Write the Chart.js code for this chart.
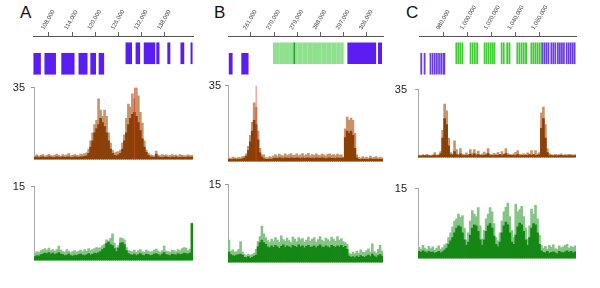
<!DOCTYPE html>
<html>
<head>
<meta charset="utf-8">
<script src="https://cdn.jsdelivr.net/npm/chart.js@4.4.0/dist/chart.umd.min.js"></script>
<style>
  body { margin: 0; background: #fff; width: 600px; height: 288px; overflow: hidden; position: relative; font-family: "Liberation Sans", Arial, sans-serif; }
  canvas { position: absolute; }
  .panel { position: absolute; font-size: 17px; line-height: 17px; color: #111; }
</style>
</head>
<body>
<div class="panel" style="left:20px;top:4px">A</div>
<div class="panel" style="left:214px;top:4px">B</div>
<div class="panel" style="left:406px;top:4px">C</div>

<canvas id="trackA" width="200" height="80" style="left:0;top:0"></canvas>
<canvas id="trackB" width="200" height="80" style="left:200px;top:0"></canvas>
<canvas id="trackC" width="200" height="80" style="left:400px;top:0"></canvas>
<canvas id="brownA" width="193" height="97" style="left:0;top:75px"></canvas>
<canvas id="brownB" width="189" height="97" style="left:194px;top:75px"></canvas>
<canvas id="brownC" width="192" height="97" style="left:384px;top:75px"></canvas>
<canvas id="greenA" width="193" height="99" style="left:0;top:174px"></canvas>
<canvas id="greenB" width="189" height="99" style="left:194px;top:174px"></canvas>
<canvas id="greenC" width="192" height="99" style="left:384px;top:174px"></canvas>

<script>
// genomic axis ticks
var ticksA = [108000, 114000, 120000, 126000, 132000, 138000];
var ticksB = [261000, 270000, 279000, 288000, 297000, 306000];
var ticksC = [980000, 1000000, 1020000, 1040000, 1060000];

// gene blocks [start, end]
var genesA_upper = [[127900,129400],[130500,131500],[132600,135400],[135850,136500],[138700,139300],[142100,142900],[144700,145050]];
var genesA_lower = [[104100,105850],[106950,109750],[111300,114550],[115750,117900],[118800,120100],[120950,122200]];

var genesB_upperGreen = [[269700,272100],[272300,274100],[274300,276000],[276200,277700],[277900,279000],[279200,281000],[281200,282900],[283100,284700],[284900,286600],[286800,288300],[288500,290300],[290500,292200],[292400,294200],[294400,295800],[296000,296900]];
var genesB_upperDark = [[277700,278000]];
var genesB_upperBlue = [[298600,309500],[310500,311800]];
var genesB_lower = [[252450,253750],[257400,259950]];

var genesC_upperGreen = [[989900,990800],[991600,992500],[993300,994200],[995000,995900],
  [1001900,1002800],[1003700,1004600],[1005500,1006400],[1007400,1008500],
  [1013700,1014600],[1015400,1016300],[1017100,1018000],[1018900,1019800],[1020600,1021500],[1022200,1022950],
  [1028000,1028900],[1029800,1030700],[1032700,1033600],[1034500,1035550],
  [1041200,1042100],[1043000,1043900],[1044800,1045700],[1046600,1047500],[1048500,1049600],
  [1053000,1053900],[1054700,1055600],[1056400,1057300],[1058100,1059000],[1059800,1060700],[1061400,1062250]];
var genesC_upperBlue = [[1062300,1063200],[1064000,1064900],[1065700,1066600],[1067400,1068300],[1069800,1070700],[1071500,1072400],[1073200,1074100],[1075300,1076200],[1077000,1077900],[1078700,1079600],[1080400,1081300],[1082700,1083600],[1084400,1085300],[1086100,1087000],[1087800,1088700],[1089400,1090300]];
var genesC_lower = [[960400,961400],[963200,964200],[968200,969100],[970000,970900],[971800,972700],[973600,974500],[975400,976300],[977200,978100],[979000,980800]];

// read depth, upper panel (0-35): main = dark fill, peak = light spikes
var brownA_main = [1.0,1.2,0.8,1.1,1.3,0.9,1.0,1.2,1.1,0.9,1.0,1.3,1.1,0.9,1.2,1.0,1.1,1.3,0.9,1.0,1.2,1.1,1.0,1.3,1.2,1.5,1.8,
  3,6,9,13,15,17,20,18,16,13,9,5,3,2,1.8,2.2,3,5,9,13,17,20,22,23,21,18,14,10,6,3.5,2,
  1.3,1.1,1.0,2.5,1.2,1.0,0.9,1.1,1.2,1.0,0.9,1.1,1.0,1.2,0.9,1.0,1.1,1.0,0.9,1.2,1.0,1.1];
var brownA_peak = [1.8,2.2,1.5,2.0,2.4,1.6,2.0,2.5,1.9,1.7,2.1,2.6,2.0,1.6,2.3,1.9,2.2,2.8,1.7,2.0,2.4,2.1,1.9,2.6,2.3,2.8,3.2,
  5,9,13,17,19,29.5,24,21,24,21,13,8,4.5,3.2,3.6,3.8,4.5,8,12,20,27,25.5,32,29.5,35,31,23,17.7,9,4.6,3,
  2.2,2.0,1.8,4.0,2.1,1.9,2.4,2.0,2.2,1.8,2.0,2.3,1.9,2.1,1.8,2.4,2.0,1.9,1.7,2.2,1.9,2.0];
var brownA_redBin = 50;

var brownB_main = [1.0,0.8,0.9,1.1,0.8,1.0,0.9,1.2,1.5,
  2.5,5,9,14,19,17,10,4,2,
  1.2,1.0,0.9,1.1,1.0,1.3,1.5,1.4,1.6,1.5,1.3,1.6,1.5,1.4,1.7,1.5,1.4,1.6,1.5,1.3,1.6,1.4,1.5,1.7,1.4,1.5,1.3,1.6,1.5,1.4,1.6,1.5,1.3,1.5,1.6,1.4,1.5,1.3,1.6,1.4,1.5,
  1.5,11,14,13,14,12,6,1.5,
  1.0,0.8,1.1,0.9,1.0,0.8,1.2,0.9,1.0,1.1,0.8,1.0,0.9];
var brownB_peak = [1.6,1.4,2.0,1.7,1.5,1.9,1.6,2.2,2.4,
  3.5,7,12,18,27,25,14,6,3,
  3.0,1.8,1.6,2.2,1.9,2.6,3.2,2.5,3.4,2.8,2.6,3.5,2.7,3.1,3.6,2.8,2.9,3.5,2.6,3.0,3.6,2.7,3.2,3.7,2.6,3.1,2.8,3.5,2.9,2.7,3.4,3.0,2.6,3.3,3.5,2.8,3.2,2.7,3.4,2.9,3.0,
  2,15,20.5,19,20,19,13,3,
  1.8,1.5,2.2,1.6,2.0,1.5,2.4,1.7,1.9,2.2,1.5,2.0,1.7];
var brownB_redBin = 14;

var brownC_main = [0.8,0.7,0.9,0.8,1.0,0.8,0.7,0.9,1.2,0.8,1.0,
  2,10,20,17,6,1.5,
  1.2,3,1.5,1.0,1.8,1.0,0.9,1.1,1.0,1.6,1.0,1.8,1.0,1.4,0.9,1.0,1.1,1.3,2.0,1.0,1.0,0.9,1.1,1.0,1.4,1.0,1.5,2.0,1.0,1.1,1.0,0.9,1.0,1.5,1.0,1.0,0.9,1.1,1.0,1.5,1.0,1.4,1.0,1.1,
  1.5,15,20,10,2.5,1,
  0.9,0.8,1.0,0.8,0.9,1.1,0.8,0.9,0.8,1.0,0.9,0.8,1.0];
var brownC_peak = [1.2,1.0,1.4,1.1,1.6,1.2,1.0,1.3,2.5,1.2,1.4,
  3,14,27.5,24,10,2.5,
  1.8,8.5,4,1.6,4.6,1.7,1.5,2.4,1.6,4,2.2,4,1.8,3.2,1.5,1.7,2.8,1.9,4.6,1.6,1.5,2.1,1.7,2.6,1.6,3.0,1.7,4.6,2.0,1.6,1.5,1.8,2.6,3.5,1.6,1.5,1.9,1.6,2.4,1.7,3.5,1.6,3.5,1.8,
  2.5,23,26,17,4.6,2,
  1.4,1.2,1.6,1.3,1.5,1.8,1.2,1.4,1.3,1.6,1.4,1.2,1.5];

// read depth, lower panel (0-15)
var greenA_main = [0.8,1.0,0.9,1.2,1.3,1.5,1.4,1.6,1.3,1.5,1.2,1.4,1.6,1.3,1.2,1.0,1.1,1.3,1.0,0.9,1.1,1.0,1.2,1.3,1.1,1.0,1.2,1.4,1.1,1.3,1.5,1.4,1.6,
  1.8,2.2,2.5,3.4,3.7,3.2,3.0,2.4,1.8,2.5,3.5,3.6,3.2,2.0,1.4,
  1.2,1.1,1.3,1.0,1.2,1.4,1.1,1.0,1.3,1.2,1.0,1.1,1.3,1.4,1.2,1.0,1.3,1.6,1.2,1.1,1.0,1.3,1.2,1.1,1.4,1.2,1.3,1.5,1.4,1.3,1.5,7.5];
var greenA_peak = [1.5,1.8,1.6,2.0,2.2,2.4,2.1,2.5,2.0,2.2,1.9,2.2,2.9,2.1,1.8,1.7,2.2,1.9,1.6,1.8,2.0,1.7,1.9,2.1,1.8,2.2,1.9,2.4,2.0,2.2,2.4,2.6,2.5,
  2.6,3.0,3.3,4.2,4.0,4.5,5.4,3.5,2.6,3.0,4.6,4.5,4.2,2.6,2.0,
  1.9,1.8,2.1,1.7,2.0,2.2,1.8,1.7,2.1,1.9,1.7,1.8,2.1,2.3,1.9,1.7,2.0,2.9,1.9,1.8,1.7,2.1,2.0,1.8,2.2,2.0,2.4,2.6,2.5,2.0,2.3,7.6];

var greenB_main = [2.0,1.5,1.3,1.2,1.4,1.5,1.6,1.4,
  1.0,0.9,1.1,0.8,1.0,1.2,1.4,
  3.0,3.8,4.3,3.8,3.5,
  3.0,2.8,3.2,2.9,3.3,3.0,2.7,3.1,3.4,2.9,3.2,3.0,2.8,3.3,3.1,2.9,3.4,3.0,3.2,2.8,3.1,3.3,2.9,3.0,3.2,2.8,3.1,3.4,3.0,2.9,3.2,3.0,2.8,3.3,3.1,2.9,3.2,3.0,3.3,2.9,3.1,
  2.5,
  1.2,1.0,1.1,0.9,1.2,1.0,1.3,1.1,1.0,1.2,1.4,1.1,1.6,1.2,1.0,1.3,1.5,1.2];
var greenB_peak = [4.3,2.2,2.4,2.0,2.1,2.5,4.0,2.0,
  1.5,1.3,1.6,1.4,1.5,1.8,2.5,
  4.0,5.0,7.0,5.5,4.8,
  4.2,3.8,4.5,4.0,4.8,4.3,3.9,5.1,4.4,4.1,4.7,4.2,3.8,4.9,4.5,4.0,4.8,4.4,4.6,3.9,4.3,4.9,4.1,4.5,4.8,3.9,4.4,5.0,4.3,4.0,4.7,4.4,4.0,4.9,4.5,4.1,5.0,4.3,4.6,4.0,3.8,
  3.5,
  1.8,1.6,2.0,1.7,2.2,1.8,2.4,2.0,1.9,2.3,2.6,2.0,3.6,2.1,1.8,2.5,3.3,2.2];

var greenC_main = [1.5,1.3,1.6,1.4,1.2,1.5,1.3,1.4,1.1,1.3,1.5,1.2,1.4,1.8,
  2.2,3.0,3.8,4.5,5.5,6.5,7.0,6.8,5.5,4.0,2.8,3.5,5.0,6.5,7.2,7.0,5.8,4.0,2.8,4.0,5.8,7.0,7.5,6.5,4.8,3.0,2.5,3.5,5.5,7.0,7.8,7.2,5.5,3.5,3.0,5.0,6.8,7.6,7.2,5.8,4.0,2.8,4.5,6.5,7.5,7.2,5.5,3.0,1.6,
  1.3,1.2,1.5,1.1,1.3,1.4,1.2,1.0,1.5,1.3,1.2,1.4,1.6,1.3,1.5,1.2,1.4];
var greenC_peak = [2.4,2.0,2.8,2.2,1.9,2.6,2.1,2.5,1.8,2.2,2.7,2.0,2.3,2.9,
  3.2,4.5,5.5,6.8,8.0,8.5,9.5,8.8,9.2,6.5,4.0,5.5,8.0,10.3,9.5,9.0,10.9,7.0,4.2,6.0,8.5,9.5,10.9,10.0,7.5,4.5,3.8,5.5,8.0,10.0,11.0,11.9,9.0,6.0,4.5,11.7,10.0,10.5,11.2,9.0,6.5,4.2,7.0,10.6,9.5,11.4,8.5,5.0,2.8,
  2.2,2.6,2.0,2.8,2.4,2.9,2.1,1.9,2.7,2.3,2.5,2.8,3.0,2.2,2.6,2.4,2.7];

Chart.defaults.font.family = '"Liberation Sans", Arial, sans-serif';

var BLUE = '#5b1ef2';
var BLUE_C = '#6a3de0';

function trackChart(id, min, max, ticks, padL, padR, sets) {
  new Chart(document.getElementById(id), {
    type: 'bar',
    data: {
      datasets: sets.map(function (s) {
        return {
          data: s.genes.map(function (g) { return { x: g, y: s.upper ? 1.5 : 0.5 }; }),
          backgroundColor: s.color,
          barThickness: 21,
          grouped: false
        };
      })
    },
    options: {
      indexAxis: 'y',
      animation: false,
      responsive: false,
      layout: { padding: { left: padL, right: padR, top: 0, bottom: 0 } },
      plugins: { legend: { display: false }, tooltip: { enabled: false } },
      scales: {
        x: {
          type: 'linear', position: 'top', min: min, max: max,
          afterBuildTicks: function (s) { s.ticks = ticks.map(function (v) { return { value: v }; }); },
          afterFit: function (s) { s.height = 36; },
          ticks: {
            autoSkip: false, minRotation: 60, maxRotation: 60, padding: 1,
            color: '#444', font: { size: 6 },
            callback: function (v) { return v.toLocaleString('en-US'); }
          },
          grid: { drawOnChartArea: false, tickLength: 4, color: '#666' },
          border: { color: '#555' }
        },
        y: {
          type: 'linear', min: 0, max: 2.1,
          afterBuildTicks: function (s) { s.ticks = [{ value: 1 }]; },
          afterFit: function (s) { s.width = 0; },
          ticks: { display: false },
          grid: { drawTicks: false, color: '#cfcfcf' },
          border: { display: false }
        }
      }
    }
  });
}

function histChart(id, main, peak, max, redBin, dark, light, tickPad) {
  var ds = [];
  if (redBin !== null) {
    ds.push({ data: main.map(function (v, i) { return i === redBin ? max : null; }), backgroundColor: '#d2442a', order: 0, barPercentage: 0.35 });
  }
  ds.push({ data: main, backgroundColor: dark, order: 1, barPercentage: 1 });
  ds.push({ data: peak, backgroundColor: light, order: 2, barPercentage: 1 });
  ds.forEach(function (d) { d.categoryPercentage = 1; d.grouped = false; });
  new Chart(document.getElementById(id), {
    type: 'bar',
    data: { labels: main.map(function (v, i) { return i; }), datasets: ds },
    options: {
      animation: false,
      responsive: false,
      layout: { padding: { top: 8, left: 0, right: 0, bottom: 0 } },
      plugins: { legend: { display: false }, tooltip: { enabled: false } },
      scales: {
        x: { display: false },
        y: {
          min: 0, max: max,
          afterBuildTicks: function (s) { s.ticks = [{ value: max }]; },
          afterFit: function (s) { s.width = 34; },
          ticks: { padding: tickPad, color: '#222', font: { size: 11 } },
          grid: { drawOnChartArea: false, tickLength: 3, color: '#999' },
          border: { color: '#aaa' }
        }
      }
    }
  });
}

trackChart('trackA', 103900, 145250, ticksA, 33, 7, [
  { genes: genesA_upper, upper: true, color: BLUE },
  { genes: genesA_lower, upper: false, color: BLUE }
]);
trackChart('trackB', 252300, 312300, ticksB, 28.5, 17, [
  { genes: genesB_upperDark, upper: true, color: '#2f9a2f' },
  { genes: genesB_upperGreen, upper: true, color: '#8fe08f' },
  { genes: genesB_upperBlue, upper: true, color: BLUE },
  { genes: genesB_lower, upper: false, color: BLUE }
]);
trackChart('trackC', 959000, 1091000, ticksC, 19, 24, [
  { genes: genesC_upperGreen, upper: true, color: '#3fcb32' },
  { genes: genesC_upperBlue, upper: true, color: BLUE_C },
  { genes: genesC_lower, upper: false, color: BLUE_C }
]);

var BROWN = '#8b4008', BROWN_L = '#c9926a';
var GREEN = '#158715', GREEN_L = '#86c486';
histChart('brownA', brownA_main, brownA_peak, 35, brownA_redBin, BROWN, BROWN_L, 6);
histChart('brownB', brownB_main, brownB_peak, 35, brownB_redBin, BROWN, BROWN_L, 4);
histChart('brownC', brownC_main, brownC_peak, 35, null, BROWN, BROWN_L, 8);
histChart('greenA', greenA_main, greenA_peak, 15, null, GREEN, GREEN_L, 6);
histChart('greenB', greenB_main, greenB_peak, 15, null, GREEN, GREEN_L, 4);
histChart('greenC', greenC_main, greenC_peak, 15, null, GREEN, GREEN_L, 8);
</script>
</body>
</html>
